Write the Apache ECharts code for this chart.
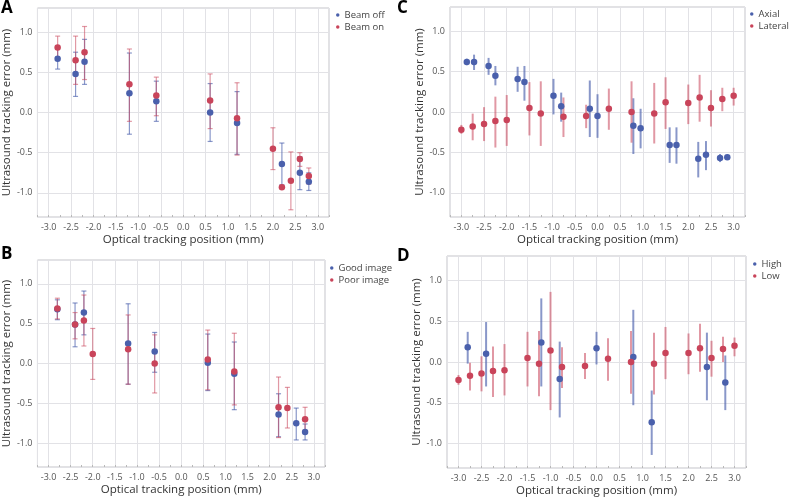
<!DOCTYPE html>
<html>
<head>
<meta charset="utf-8">
<script src="https://cdn.jsdelivr.net/npm/echarts@6/dist/echarts.min.js"></script>
<style>html,body{margin:0;padding:0;background:#fff}#c{width:790px;height:498px}</style>
</head>
<body>
<div id="c"></div>
<script>
// ---------- Panel A: Beam off / Beam on ----------
const aOffX  = [-2.8, -2.4, -2.2, -1.2, -0.6, 0.6, 1.2, 2.2, 2.6, 2.8];
const aOffY  = [0.67, 0.48, 0.63, 0.24, 0.14, 0.00, -0.13, -0.64, -0.75, -0.86];
const aOffLo = [0.54, 0.20, 0.35, -0.27, -0.11, -0.36, -0.52, -0.90, -0.96, -0.97];
const aOffHi = [0.80, 0.75, 0.91, 0.74, 0.39, 0.36, 0.26, -0.38, -0.55, -0.75];
const aOnX   = [-2.8, -2.4, -2.2, -1.2, -0.6, 0.6, 1.2, 2.0, 2.2, 2.4, 2.6, 2.8];
const aOnY   = [0.81, 0.65, 0.75, 0.35, 0.21, 0.15, -0.07, -0.45, -0.93, -0.85, -0.58, -0.79];
const aOnLo  = [0.67, 0.35, 0.41, -0.11, -0.04, -0.20, -0.53, -0.71, -0.93, -1.21, -0.67, -0.89];
const aOnHi  = [0.95, 0.95, 1.07, 0.79, 0.44, 0.48, 0.37, -0.19, -0.93, -0.49, -0.50, -0.69];

// ---------- Panel B: Good image / Poor image ----------
const bGoodX  = [-2.8, -2.4, -2.2, -1.2, -0.6, 0.6, 1.2, 2.2, 2.6, 2.8];
const bGoodY  = [0.68, 0.49, 0.64, 0.25, 0.15, 0.01, -0.13, -0.64, -0.75, -0.86];
const bGoodLo = [0.55, 0.21, 0.36, -0.26, -0.11, -0.34, -0.58, -0.92, -0.96, -0.96];
const bGoodHi = [0.80, 0.76, 0.91, 0.75, 0.39, 0.37, 0.27, -0.38, -0.56, -0.76];
const bPoorX  = [-2.8, -2.4, -2.2, -2.0, -1.2, -0.6, 0.6, 1.2, 2.2, 2.4, 2.8];
const bPoorY  = [0.69, 0.49, 0.54, 0.12, 0.18, 0.00, 0.05, -0.10, -0.55, -0.56, -0.70];
const bPoorLo = [0.56, 0.31, 0.22, -0.20, -0.26, -0.37, -0.33, -0.52, -0.93, -0.81, -0.84];
const bPoorHi = [0.82, 0.64, 0.86, 0.44, 0.61, 0.36, 0.42, 0.38, -0.17, -0.30, -0.55];

// ---------- Panel C: Axial / Lateral ----------
const cAxX  = [-2.88, -2.72, -2.40, -2.25, -1.76, -1.61, -0.97, -0.80, -0.17, 0.0, 0.79, 0.95, 1.59, 1.74, 2.22, 2.39, 2.70, 2.86];
const cAxY  = [0.62, 0.62, 0.57, 0.45, 0.41, 0.37, 0.20, 0.07, 0.04, -0.05, -0.17, -0.20, -0.41, -0.41, -0.58, -0.53, -0.57, -0.56];
const cAxLo = [0.58, 0.52, 0.46, 0.33, 0.25, 0.14, -0.03, -0.12, -0.31, -0.32, -0.52, -0.45, -0.63, -0.64, -0.81, -0.72, -0.62, -0.58];
const cAxHi = [0.66, 0.71, 0.67, 0.57, 0.56, 0.57, 0.41, 0.24, 0.39, 0.22, 0.17, 0.04, -0.19, -0.19, -0.37, -0.36, -0.52, -0.54];
const cLatX  = [-3.0, -2.75, -2.5, -2.25, -2.0, -1.5, -1.25, -0.75, -0.25, 0.25, 0.75, 1.25, 1.5, 2.0, 2.25, 2.5, 2.75, 3.0];
const cLatY  = [-0.22, -0.18, -0.15, -0.11, -0.10, 0.05, -0.02, -0.06, -0.05, 0.04, 0.00, -0.02, 0.12, 0.11, 0.18, 0.05, 0.16, 0.20];
const cLatLo = [-0.27, -0.35, -0.36, -0.44, -0.42, -0.29, -0.42, -0.31, -0.20, -0.22, -0.38, -0.39, -0.21, -0.15, -0.12, -0.18, 0.01, 0.08];
const cLatHi = [-0.16, -0.02, 0.06, 0.19, 0.21, 0.37, 0.38, 0.18, 0.09, 0.29, 0.38, 0.36, 0.43, 0.34, 0.46, 0.27, 0.30, 0.30];

// ---------- Panel D: High / Low ----------
const dHiX  = [-2.8, -2.4, -1.2, -0.8, 0.0, 0.8, 1.2, 2.4, 2.8];
const dHiY  = [0.18, 0.10, 0.24, -0.21, 0.17, 0.06, -0.74, -0.06, -0.25];
const dHiLo = [-0.02, -0.30, -0.30, -0.68, -0.03, -0.53, -1.14, -0.47, -0.59];
const dHiHi = [0.37, 0.49, 0.78, 0.25, 0.37, 0.64, -0.35, 0.36, 0.08];
const dLoX  = [-3.0, -2.75, -2.5, -2.25, -2.0, -1.5, -1.25, -1.0, -0.75, -0.25, 0.25, 0.75, 1.25, 1.5, 2.0, 2.25, 2.5, 2.75, 3.0];
const dLoY  = [-0.22, -0.17, -0.14, -0.11, -0.10, 0.05, -0.02, 0.14, -0.06, -0.05, 0.04, 0.00, -0.02, 0.11, 0.11, 0.17, 0.05, 0.16, 0.20];
const dLoLo = [-0.28, -0.35, -0.36, -0.43, -0.41, -0.30, -0.42, -0.59, -0.32, -0.21, -0.23, -0.39, -0.40, -0.21, -0.15, -0.12, -0.18, 0.00, 0.07];
const dLoHi = [-0.16, -0.01, 0.07, 0.19, 0.22, 0.37, 0.38, 0.86, 0.18, 0.11, 0.29, 0.38, 0.36, 0.43, 0.35, 0.47, 0.26, 0.31, 0.30];

const xTitle = 'Optical tracking position (mm)';
const yTitle = 'Ultrasound tracking error (mm)';
const panelLetters = ['A', 'B', 'C', 'D'];
const legendNames = [['Beam off', 'Beam on'], ['Good image', 'Poor image'], ['Axial', 'Lateral'], ['High', 'Low']];

const BLUE = '#4a60ac';
const RED = '#c9445a';
const BLUE_BAR = 'rgba(74,96,172,0.65)';
const RED_BAR = 'rgba(201,68,90,0.55)';
const FONT = 'Open Sans';

const grids = [
  {left: 34, top: 8, width: 295, height: 209},
  {left: 33, top: 260, width: 292, height: 207},
  {left: 450, top: 7, width: 295, height: 210},
  {left: 447, top: 256, width: 299, height: 212}
];
const legendPos = [
  {left: 336, top: 10},
  {left: 330, top: 263},
  {left: 750, top: 9},
  {left: 753, top: 259}
];
const letterPos = [[1, 0], [1, 246], [397, 0], [397, 248]];

function zip(xs, ys) { return xs.map((x, i) => [x, ys[i]]); }
function zip3(xs, lo, hi) { return xs.map((x, i) => [x, lo[i], hi[i]]); }

function errRender(color, caps) {
  return function (params, api) {
    const x = api.value(0), lo = api.value(1), hi = api.value(2);
    const p1 = api.coord([x, hi]), p2 = api.coord([x, lo]);
    const children = [{
      type: 'line',
      shape: {x1: p1[0], y1: p1[1], x2: p2[0], y2: p2[1]},
      style: {stroke: color, lineWidth: caps ? 1.2 : 2}
    }];
    if (caps) {
      const w = 2.5;
      children.push({type: 'line', shape: {x1: p1[0] - w, y1: p1[1], x2: p1[0] + w, y2: p1[1]}, style: {stroke: color, lineWidth: 1.2}});
      children.push({type: 'line', shape: {x1: p2[0] - w, y1: p2[1], x2: p2[0] + w, y2: p2[1]}, style: {stroke: color, lineWidth: 1.2}});
    }
    return {type: 'group', children: children};
  };
}

const xAxes = [], yAxes = [], legends = [], series = [];
for (let i = 0; i < 4; i++) {
  xAxes.push({
    type: 'value', gridIndex: i, min: -3.25, max: 3.25, position: 'bottom',
    splitNumber: 13, minInterval: 0.5, maxInterval: 0.5,
    name: xTitle, nameLocation: 'middle', nameGap: 17,
    nameTextStyle: {fontFamily: FONT, fontSize: 11.5, color: '#333'},
    axisLine: {show: false, onZero: false},
    axisTick: {show: true, inside: true, length: 2, lineStyle: {color: '#b8b8b8'}},
    minorTick: {show: true, splitNumber: 2, length: 2, lineStyle: {color: '#b8b8b8'}},
    axisLabel: {fontFamily: FONT, fontSize: 9, color: '#555', margin: 6, showMinLabel: false, showMaxLabel: false,
      formatter: v => v.toFixed(1)},
    splitLine: {show: true, lineStyle: {color: '#e2e2e6', width: 1}}
  });
  yAxes.push({
    type: 'value', gridIndex: i, min: -1.3, max: 1.3, position: 'left',
    splitNumber: 5, minInterval: 0.5, maxInterval: 0.5,
    name: yTitle, nameLocation: 'middle', nameGap: 23,
    nameTextStyle: {fontFamily: FONT, fontSize: 11.5, color: '#333'},
    axisLine: {show: false, onZero: false},
    axisTick: {show: false},
    axisLabel: {fontFamily: FONT, fontSize: 9, color: '#555', margin: 5, showMinLabel: false, showMaxLabel: false,
      formatter: v => v.toFixed(1)},
    splitLine: {show: true, lineStyle: {color: '#e2e2e6', width: 1}}
  });
  legends.push({
    data: legendNames[i].map((n, k) => ({name: n, itemStyle: {color: k === 0 ? BLUE : RED}})),
    orient: 'vertical', left: legendPos[i].left, top: legendPos[i].top,
    icon: 'circle', itemWidth: 3.5, itemHeight: 3.5, itemGap: 2,
    textStyle: {fontFamily: FONT, fontSize: 9.5, color: '#444', padding: [0, 0, 0, 0]},
    selectedMode: false, padding: 0
  });
}

const panels = [
  [[aOffX, aOffY, aOffLo, aOffHi], [aOnX, aOnY, aOnLo, aOnHi], true],
  [[bGoodX, bGoodY, bGoodLo, bGoodHi], [bPoorX, bPoorY, bPoorLo, bPoorHi], true],
  [[cAxX, cAxY, cAxLo, cAxHi], [cLatX, cLatY, cLatLo, cLatHi], false],
  [[dHiX, dHiY, dHiLo, dHiHi], [dLoX, dLoY, dLoLo, dLoHi], false]
];

panels.forEach((p, i) => {
  const caps = p[2];
  [p[0], p[1]].forEach((s, k) => {
    const name = legendNames[i][k];
    const col = k === 0 ? BLUE : RED;
    const barCol = k === 0 ? BLUE_BAR : RED_BAR;
    series.push({
      type: 'custom', name: name, xAxisIndex: i, yAxisIndex: i, z: 2,
      itemStyle: {color: col},
      renderItem: errRender(barCol, caps),
      data: zip3(s[0], s[2], s[3]),
      encode: {x: 0, y: [1, 2]},
      silent: true
    });
  });
  [p[0], p[1]].forEach((s, k) => {
    series.push({
      type: 'scatter', name: legendNames[i][k], xAxisIndex: i, yAxisIndex: i, z: 3,
      symbol: 'circle', symbolSize: 6.5,
      itemStyle: {color: k === 0 ? BLUE : RED, opacity: 1},
      data: zip(s[0], s[1]),
      silent: true
    });
  });
});

const chart = echarts.init(document.getElementById('c'), null, {renderer: 'canvas'});
chart.setOption({
  animation: false,
  backgroundColor: '#ffffff',
  grid: grids.map(g => Object.assign({show: true, borderColor: '#c4c4c8', borderWidth: 1, backgroundColor: 'transparent'}, g)),
  xAxis: xAxes,
  yAxis: yAxes,
  legend: legends,
  graphic: panelLetters.map((t, i) => ({
    type: 'text', left: letterPos[i][0], top: letterPos[i][1],
    style: {text: t, font: 'bold 17px "Open Sans", sans-serif', fill: '#000'}
  })),
  series: series
});
</script>
</body>
</html>
